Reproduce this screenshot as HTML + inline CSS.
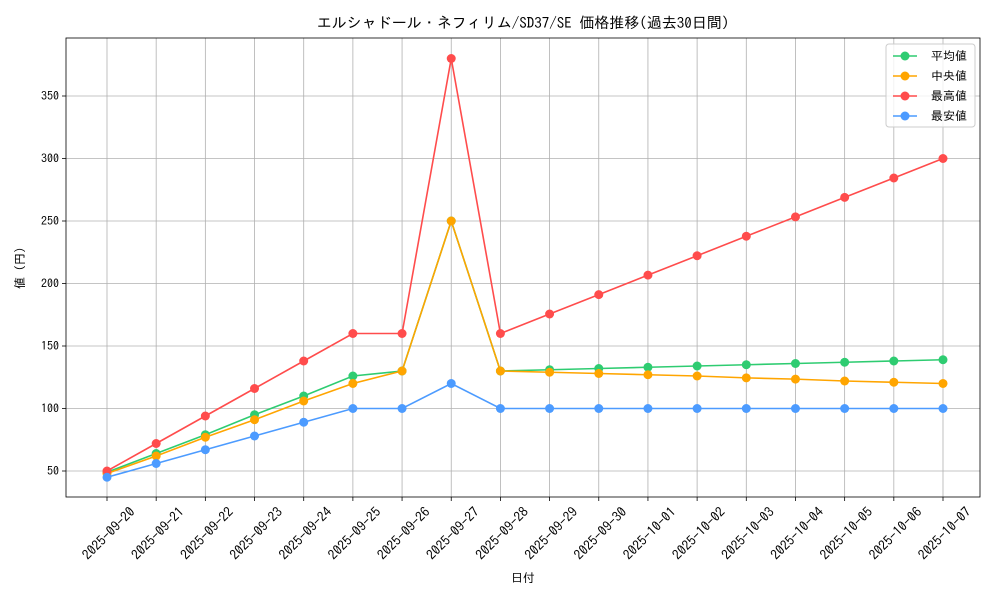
<!DOCTYPE html>
<html><head><meta charset="utf-8"><style>
body{margin:0;background:#fff;}
svg{font-family:"IPAGothic","Noto Sans CJK JP",sans-serif;}
</style></head><body>
<svg id="chart" width="1000" height="600" xmlns="http://www.w3.org/2000/svg"></svg>
<script>
const categories=["2025-09-20","2025-09-21","2025-09-22","2025-09-23","2025-09-24","2025-09-25","2025-09-26","2025-09-27","2025-09-28","2025-09-29","2025-09-30","2025-10-01","2025-10-02","2025-10-03","2025-10-04","2025-10-05","2025-10-06","2025-10-07"];
const avgValues=[49,64,79,95,110,126,130,250,130,131,132,133,134,135,136,137,138,139];
const medianValues=[48,62,77,91,106,120,130,250,130,129,128,127,126,124.5,123.5,122,121,120];
const maxValues=[50,72,94,116,138,160,160,380,160,175.6,191.1,206.7,222.2,237.8,253.3,268.9,284.4,300];
const minValues=[45,56,67,78,89,100,100,120,100,100,100,100,100,100,100,100,100,100];
const yTicks=[50,100,150,200,250,300,350];
const seriesNames=["平均値","中央値","最高値","最安値"];
const colors=["#2ecc71","#ffa500","#ff4c4c","#4c9bff"];
const svg=document.getElementById('chart');const NS="http://www.w3.org/2000/svg";
const L=66,R=980,T=38,B=497;
const x=i=>107+i*(943-107)/(categories.length-1);
const y=v=>471-(v-50)*1.25;
function mk(t,a,p){const e=document.createElementNS(NS,t);for(const k in a)e.setAttribute(k,a[k]);(p||svg).appendChild(e);return e;}
const grid=mk('g',{});
categories.forEach((c,i)=>{
 mk('line',{x1:x(i),x2:x(i),y1:T,y2:B,stroke:'#b0b0b0','stroke-width':0.8},grid);
 mk('line',{x1:x(i),x2:x(i),y1:B,y2:B+4,stroke:'#000','stroke-width':0.8});
 const ax=x(i)+22, ay=B+9;
 const t=mk('text',{x:ax,y:ay,'font-size':13.5,'text-anchor':'end',transform:`rotate(-45 ${ax} ${ay})`,'dominant-baseline':'hanging'});
 t.textContent=c;
});
yTicks.forEach(v=>{
 mk('line',{x1:L,x2:R,y1:y(v),y2:y(v),stroke:'#b0b0b0','stroke-width':0.8},grid);
 mk('line',{x1:L-4,x2:L,y1:y(v),y2:y(v),stroke:'#000','stroke-width':0.8});
 const t=mk('text',{x:L-7,y:y(v)+4,'font-size':12,'text-anchor':'end'});t.textContent=v;
 
});
const frame=mk('rect',{x:L,y:T,width:R-L,height:B-T,fill:'none',stroke:'#000','stroke-width':0.8});

[avgValues,medianValues,maxValues,minValues].forEach((vals,s)=>{
 const g=mk('g',{});
 mk('polyline',{points:vals.map((v,i)=>x(i)+','+y(v)).join(' '),fill:'none',stroke:colors[s],'stroke-width':1.6},g);
 vals.forEach((v,i)=>{const c=mk('circle',{cx:x(i),cy:y(v),r:4.5,fill:colors[s]},g);});
});
const title=mk('text',{x:523,y:28,'font-size':15,'text-anchor':'middle'});title.textContent="エルシャドール・ネフィリム/SD37/SE 価格推移(過去30日間)";

const xt=mk('text',{x:523,y:582,'font-size':12,'text-anchor':'middle'});xt.textContent="日付";

const yt=mk('text',{x:24,y:268,'font-size':12,'text-anchor':'middle',transform:'rotate(-90 24 268)'});yt.textContent="値 (円)";

const lg=mk('g',{});
mk('rect',{x:886,y:44,width:89,height:83,rx:3,fill:'#fff','fill-opacity':0.8,stroke:'#ccc'},lg);
seriesNames.forEach((n,i)=>{const yy=56+i*20;
 mk('line',{x1:893,x2:917,y1:yy,y2:yy,stroke:colors[i],'stroke-width':1.6},lg);
 mk('circle',{cx:905,cy:yy,r:4.5,fill:colors[i]},lg);
 const t=mk('text',{x:931,y:yy+4,'font-size':12},lg);t.textContent=n;
 });
</script>
</body></html>
